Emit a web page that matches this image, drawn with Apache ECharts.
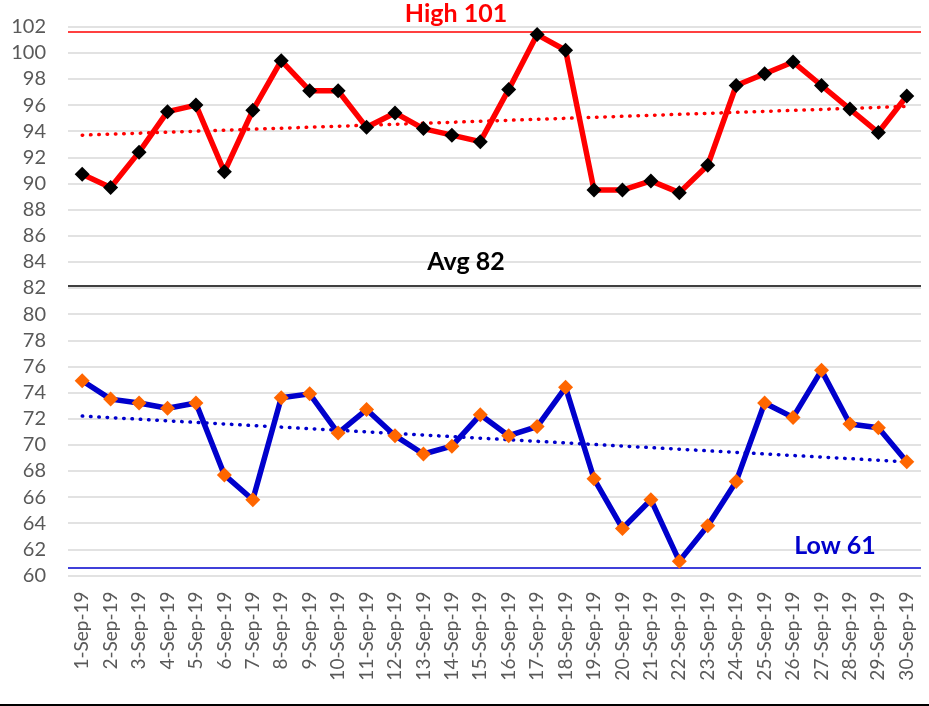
<!DOCTYPE html>
<html>
<head>
<meta charset="utf-8">
<script src="https://cdn.jsdelivr.net/npm/echarts@6/dist/echarts.min.js"></script>
<style>html,body{margin:0;padding:0;background:#fff}#c{width:929px;height:706px}</style>
</head>
<body>
<div id="c"></div>
<script>
const categories = ['1-Sep-19','2-Sep-19','3-Sep-19','4-Sep-19','5-Sep-19','6-Sep-19','7-Sep-19','8-Sep-19','9-Sep-19','10-Sep-19',
  '11-Sep-19','12-Sep-19','13-Sep-19','14-Sep-19','15-Sep-19','16-Sep-19','17-Sep-19','18-Sep-19','19-Sep-19','20-Sep-19',
  '21-Sep-19','22-Sep-19','23-Sep-19','24-Sep-19','25-Sep-19','26-Sep-19','27-Sep-19','28-Sep-19','29-Sep-19','30-Sep-19'];
const highValues = [90.7,89.7,92.4,95.5,96.0,90.9,95.6,99.4,97.1,97.1,
  94.3,95.4,94.2,93.7,93.2,97.2,101.4,100.2,89.5,89.5,
  90.2,89.3,91.4,97.5,98.4,99.3,97.5,95.7,93.9,96.7];
const lowValues = [74.9,73.5,73.2,72.8,73.2,67.7,65.8,73.6,73.9,70.9,
  72.7,70.7,69.3,69.9,72.3,70.7,71.4,74.4,67.4,63.6,
  65.8,61.1,63.8,67.2,73.2,72.1,75.7,71.6,71.3,68.7];
const highTrend = [93.7, 95.9];   // start, end
const lowTrend = [72.2, 68.7];    // start, end
const refLines = { high: 101.6, avg: 82.2, low: 60.6 };
const refLabels = ['High 101', 'Avg 82', 'Low 61'];
const yTicks = { min: 60, max: 102, interval: 2 };

const FONT = 'Lato';
const chart = echarts.init(document.getElementById('c'));
function trend(vals, color) {
  return {
    symbol: ['none','none'], silent: true,
    lineStyle: { color: color, width: 3.5, type: [0.5, 7.8], cap: 'round' },
    label: { show: false },
    data: [[{ coord: [categories[0], vals[0]] }, { coord: [categories[categories.length-1], vals[1]] }]]
  };
}
const labelFont = 'bold 25px Lato';
chart.setOption({
  animation: false,
  grid: { left: 68, right: 8, top: 26.7, bottom: 130.5 },
  xAxis: {
    type: 'category', data: categories, boundaryGap: true,
    axisLine: { show: false }, axisTick: { show: false },
    axisLabel: { rotate: 90, color: '#595959', fontFamily: FONT, fontSize: 19, margin: 16, interval: 0 }
  },
  yAxis: {
    type: 'value', min: yTicks.min, max: yTicks.max, interval: yTicks.interval,
    axisLine: { show: false }, axisTick: { show: false },
    axisLabel: { color: '#595959', fontFamily: FONT, fontSize: 20, margin: 22 },
    splitLine: { lineStyle: { color: '#d9d9d9', width: 1.5 } }
  },
  graphic: [
    { type: 'text', x: 456, y: 14, z: 10, style: { text: refLabels[0], fill: '#ff0000', font: labelFont, align: 'center', verticalAlign: 'middle' } },
    { type: 'text', x: 466, y: 262, z: 10, style: { text: refLabels[1], fill: '#000000', font: labelFont, align: 'center', verticalAlign: 'middle' } },
    { type: 'text', x: 835, y: 546, z: 10, style: { text: refLabels[2], fill: '#0000cc', font: labelFont, align: 'center', verticalAlign: 'middle' } },
    { type: 'line', shape: { x1: 0, y1: 705, x2: 929, y2: 705 }, style: { stroke: '#000', lineWidth: 2 } }
  ],
  series: [
    {
      name: 'High', type: 'line', data: highValues, z: 5,
      symbol: 'diamond', symbolSize: 15,
      lineStyle: { color: '#ff0000', width: 5.5 },
      itemStyle: { color: '#000000' },
      markLine: trend(highTrend, '#ff0000')
    },
    {
      name: 'Low', type: 'line', data: lowValues, z: 5,
      symbol: 'diamond', symbolSize: 15,
      lineStyle: { color: '#0000cc', width: 5.5 },
      itemStyle: { color: '#ff6600' },
      markLine: trend(lowTrend, '#0000cc')
    },
    {
      name: 'Ref', type: 'line', data: [], z: 3,
      markLine: {
        symbol: ['none','none'], silent: true, label: { show: false },
        data: [
          { yAxis: refLines.high, lineStyle: { color: '#ff0000', width: 1.5, type: 'solid' } },
          { yAxis: refLines.avg, lineStyle: { color: '#000000', width: 1.5, type: 'solid' } },
          { yAxis: refLines.low, lineStyle: { color: '#0000cc', width: 1.5, type: 'solid' } }
        ]
      }
    }
  ]
});
</script>
</body>
</html>
